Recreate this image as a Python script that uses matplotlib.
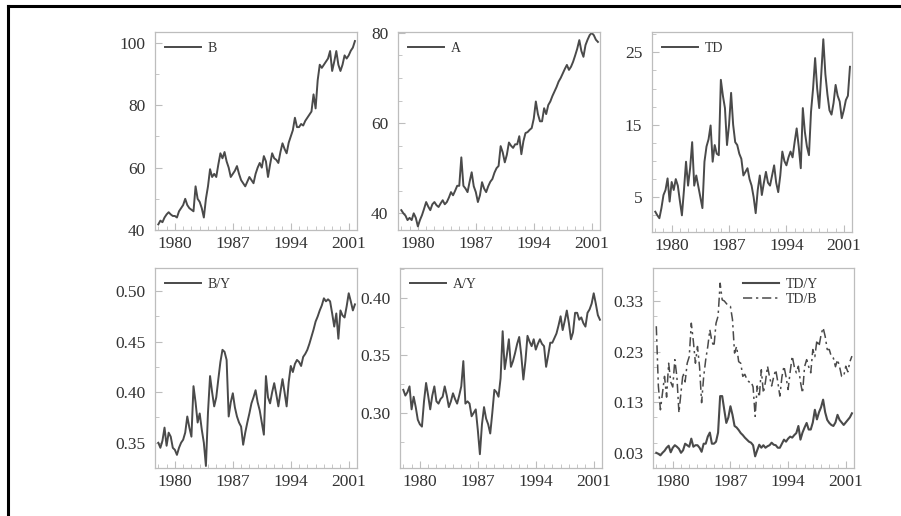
import numpy as np
import matplotlib
matplotlib.use("Agg")
import matplotlib.pyplot as plt
from matplotlib.lines import Line2D
from matplotlib.ticker import MultipleLocator

plt.rcParams['font.family'] = ['Liberation Serif', 'DejaVu Serif']

# quarterly observations, 1978Q1 .. 2001Q4
years = np.arange(1978.0, 2002.0, 0.25)

B = [41.8, 43, 42.5, 44,
     45, 45.7, 45, 44.5,
     44.5, 44, 46, 47,
     48, 50, 48, 47,
     46.5, 46, 54, 50,
     49, 47, 44, 50,
     54, 59.5, 57, 58,
     57, 61, 64.6, 63,
     65, 62, 60, 57,
     58, 59, 60.5, 58,
     56, 55, 54, 55.5,
     57, 56, 55, 58,
     60, 61.5, 60, 63.7,
     62, 57, 61, 64.6,
     63, 62.5, 61.5, 65,
     67.8, 66, 64.6, 68,
     70, 72, 76, 73,
     73, 74, 73.5, 75,
     76, 77, 78, 83.5,
     79, 88, 93, 92,
     93, 94, 95, 97.4,
     91, 94, 97.4, 93,
     91, 93, 96, 95,
     96, 97.5, 98.5, 100.6]

A = [40.7, 40, 39.5, 38.5,
     39, 38.5, 40, 39,
     37.1, 38.5, 39.6, 41,
     42.5, 41.5, 40.7, 42,
     42.5, 41.8, 41.4, 42.2,
     42.9, 42, 42.5, 43.5,
     44.7, 44, 45, 46.1,
     46.1, 52.4, 46.1, 45.5,
     44.7, 47, 49.1, 46,
     44.7, 42.5, 44, 46.9,
     45.5, 44.7, 46, 47,
     47.6, 49, 50, 50.5,
     54.9, 53.5, 51.3, 53,
     55.7, 55, 54.5, 55.3,
     55.3, 57.1, 53.1, 56,
     57.8, 58, 58.5, 58.9,
     61, 64.8, 62, 60.4,
     60.4, 63.3, 62, 64,
     64.8, 66, 67, 68,
     69.2, 70, 71, 72,
     72.9, 71.8, 72.5, 73.6,
     75, 76.5, 78.4, 76,
     74.7, 77.3, 78.5, 79.5,
     80, 79.5, 78.5, 78]

TD = [3.0, 2.5, 2.1, 3.5,
      5.3, 6, 7.6, 4.4,
      7.1, 6, 7.5, 6.6,
      4.5, 2.5, 6, 9.9,
      6.6, 9, 12.6, 6.6,
      8, 6.5, 5, 3.5,
      9.9, 12, 13, 14.9,
      9.9, 12.2, 11, 10.8,
      21.2, 19, 17.3, 12.2,
      15, 19.4, 15, 12.6,
      12.2, 11, 10.3, 8,
      8.5, 9, 7.5, 6.6,
      5, 2.8, 6, 8,
      5.3, 7, 8.5, 7,
      6.6, 8, 9.4, 7,
      5.7, 8, 11.3, 10,
      9.4, 10.5, 11.3, 10.5,
      12.6, 14.5, 12, 9,
      17.3, 14, 12, 10.8,
      16.8, 20, 24.2, 20,
      17.3, 22, 26.8, 22,
      19.2, 17, 16.4, 18,
      20.5, 19, 18.2, 15.9,
      17, 18.4, 19, 23]

BY = [0.35, 0.345, 0.352, 0.365,
      0.347, 0.36, 0.356, 0.345,
      0.343, 0.338, 0.345, 0.35,
      0.353, 0.36, 0.376, 0.365,
      0.356, 0.406, 0.39, 0.37,
      0.379, 0.363, 0.35, 0.327,
      0.38, 0.416, 0.4, 0.386,
      0.395, 0.413, 0.43, 0.442,
      0.44, 0.432, 0.376, 0.39,
      0.399, 0.385, 0.376, 0.37,
      0.366, 0.348, 0.36, 0.37,
      0.379, 0.389, 0.395, 0.402,
      0.39, 0.382, 0.37, 0.358,
      0.416, 0.395, 0.389, 0.4,
      0.409, 0.398, 0.386, 0.4,
      0.413, 0.4, 0.386, 0.41,
      0.426, 0.42, 0.428, 0.432,
      0.43, 0.426, 0.435, 0.438,
      0.442, 0.448, 0.455, 0.462,
      0.470, 0.475, 0.481, 0.486,
      0.493, 0.49, 0.492, 0.49,
      0.478, 0.465, 0.478, 0.453,
      0.481, 0.476, 0.474, 0.485,
      0.498, 0.49, 0.481, 0.487]

AY = [0.32, 0.315, 0.318, 0.323,
      0.303, 0.314, 0.305, 0.294,
      0.29, 0.288, 0.31, 0.326,
      0.315, 0.303, 0.315, 0.323,
      0.31, 0.308, 0.312, 0.314,
      0.323, 0.315, 0.305, 0.31,
      0.317, 0.312, 0.308, 0.315,
      0.323, 0.345, 0.308, 0.31,
      0.308, 0.297, 0.300, 0.303,
      0.285, 0.264, 0.29, 0.305,
      0.295, 0.29, 0.282, 0.30,
      0.320, 0.318, 0.314, 0.33,
      0.371, 0.338, 0.35, 0.364,
      0.340, 0.345, 0.352, 0.36,
      0.366, 0.35, 0.329, 0.345,
      0.367, 0.362, 0.358, 0.364,
      0.355, 0.36, 0.364, 0.36,
      0.358, 0.34, 0.35, 0.361,
      0.361, 0.365, 0.369, 0.376,
      0.384, 0.372, 0.38, 0.389,
      0.378, 0.364, 0.37, 0.387,
      0.387, 0.381, 0.383, 0.378,
      0.375, 0.387, 0.39, 0.395,
      0.404, 0.395, 0.385, 0.381]

TDY = [0.03, 0.028, 0.025, 0.03,
       0.034, 0.04, 0.044, 0.031,
       0.04, 0.045, 0.042, 0.038,
       0.030, 0.035, 0.048, 0.045,
       0.042, 0.058, 0.042, 0.045,
       0.045, 0.04, 0.032, 0.048,
       0.048, 0.062, 0.07, 0.048,
       0.048, 0.052, 0.07, 0.142,
       0.142, 0.115, 0.089, 0.10,
       0.122, 0.105, 0.083, 0.08,
       0.075, 0.069, 0.065, 0.06,
       0.056, 0.052, 0.050, 0.045,
       0.023, 0.035, 0.046, 0.04,
       0.045, 0.04, 0.043, 0.045,
       0.05, 0.046, 0.045, 0.04,
       0.040, 0.048, 0.056, 0.052,
       0.058, 0.062, 0.06, 0.065,
       0.069, 0.083, 0.056, 0.07,
       0.08, 0.089, 0.076, 0.076,
       0.09, 0.115, 0.096, 0.11,
       0.12, 0.135, 0.11, 0.095,
       0.089, 0.085, 0.083, 0.09,
       0.105, 0.095, 0.09, 0.085,
       0.09, 0.095, 0.1, 0.108]

TDB = [0.28, 0.162, 0.115, 0.148,
       0.181, 0.14, 0.207, 0.17,
       0.16, 0.214, 0.18, 0.109,
       0.15, 0.188, 0.17, 0.207,
       0.22, 0.286, 0.25, 0.207,
       0.24, 0.20, 0.129, 0.18,
       0.214, 0.24, 0.273, 0.25,
       0.24, 0.286, 0.30, 0.365,
       0.332, 0.33, 0.325, 0.32,
       0.319, 0.293, 0.227, 0.24,
       0.21, 0.207, 0.181, 0.185,
       0.175, 0.17, 0.171, 0.16,
       0.102, 0.162, 0.14, 0.194,
       0.148, 0.17, 0.201, 0.18,
       0.162, 0.18, 0.194, 0.17,
       0.142, 0.18, 0.201, 0.18,
       0.155, 0.19, 0.221, 0.2,
       0.188, 0.201, 0.17, 0.148,
       0.2, 0.214, 0.2, 0.188,
       0.234, 0.22, 0.253, 0.24,
       0.263, 0.277, 0.26, 0.234,
       0.234, 0.22, 0.217, 0.2,
       0.214, 0.2, 0.181, 0.181,
       0.201, 0.19, 0.21, 0.221]

xticks = [1980, 1987, 1994, 2001]

W, H = 901, 516
fig = plt.figure(figsize=(W / 100, H / 100), dpi=100)
fig.patch.set_facecolor('white')

def ax_px(left, right, top, bottom):
    return fig.add_axes([left / W, 1 - bottom / H, (right - left) / W, (bottom - top) / H])

LC = '#4a4a4a'
SC = '#bdbdbd'
TC = '#333333'

def style(ax, ylim, yticks, ylabels, yminor):
    ax.set_xlim(1977.6, 2002.0)
    ax.set_ylim(*ylim)
    ax.set_xticks(xticks)
    ax.set_xticklabels([str(t) for t in xticks])
    ax.xaxis.set_minor_locator(MultipleLocator(1))
    ax.set_yticks(yticks)
    ax.set_yticklabels(ylabels)
    ax.yaxis.set_minor_locator(MultipleLocator(yminor))
    for s in ax.spines.values():
        s.set_color(SC)
        s.set_linewidth(0.9)
    ax.tick_params(which='both', direction='in', color=SC, labelcolor=TC,
                   labelsize=12.5, top=False, right=False)
    ax.tick_params(which='major', length=5, width=0.8, pad=4)
    ax.tick_params(which='minor', length=3, width=0.6)
    ax.tick_params(axis='y', pad=7)

def legend(ax, **kw):
    lg = ax.legend(frameon=False, fontsize=10, handlelength=2.6, handletextpad=0.5,
                   labelspacing=0.15, borderaxespad=0.3, **kw)
    for t in lg.get_texts():
        t.set_color(TC)

# Top row
ax1 = ax_px(155, 357, 32, 230)
ax1.plot(years, B, color=LC, lw=1.4, label='B')
style(ax1, (40, 103.5), [40, 60, 80, 100], ['40', '60', '80', '100'], 10)
legend(ax1, loc='upper left')

ax2 = ax_px(398, 600, 32, 230)
ax2.plot(years, A, color=LC, lw=1.4, label='A')
style(ax2, (36.3, 80.2), [40, 60, 80], ['40', '60', '80'], 5)
legend(ax2, loc='upper left')

ax3 = ax_px(652, 852, 32, 232)
ax3.plot(years, TD, color=LC, lw=1.4, label='TD')
style(ax3, (0.2, 27.8), [5, 15, 25], ['5', '15', '25'], 2.5)
legend(ax3, loc='upper left')

# Bottom row
ax4 = ax_px(155, 357, 268, 468)
ax4.plot(years, BY, color=LC, lw=1.4, label='B/Y')
style(ax4, (0.325, 0.523), [0.35, 0.40, 0.45, 0.50], ['0.35', '0.40', '0.45', '0.50'], 0.025)
legend(ax4, loc='upper left')

ax5 = ax_px(400, 602, 268, 468)
ax5.plot(years, AY, color=LC, lw=1.4, label='A/Y')
style(ax5, (0.252, 0.426), [0.30, 0.35, 0.40], ['0.30', '0.35', '0.40'], 0.025)
legend(ax5, loc='upper left')

ax6 = ax_px(653, 854, 268, 468)
ax6.plot(years, TDY, color=LC, lw=1.5, label='TD/Y')
ax6.plot(years, TDB, color=LC, lw=1.1, ls=(0, (6, 2.5, 1.5, 2.5)), label='TD/B')
style(ax6, (0.0, 0.395), [0.03, 0.13, 0.23, 0.33], ['0.03', '0.13', '0.23', '0.33'], 0.05)
legend(ax6, loc='upper left', bbox_to_anchor=(0.40, 1.0))

# outer frame (top and left edges)
fig.add_artist(Line2D([7.5 / W, 1.0], [1 - 6 / H, 1 - 6 / H], transform=fig.transFigure,
                      color='black', lw=2.2))
fig.add_artist(Line2D([7.5 / W, 7.5 / W], [0.0, 1 - 6 / H], transform=fig.transFigure,
                      color='black', lw=2.2))

fig.savefig('out.png', dpi=100, facecolor='white')
